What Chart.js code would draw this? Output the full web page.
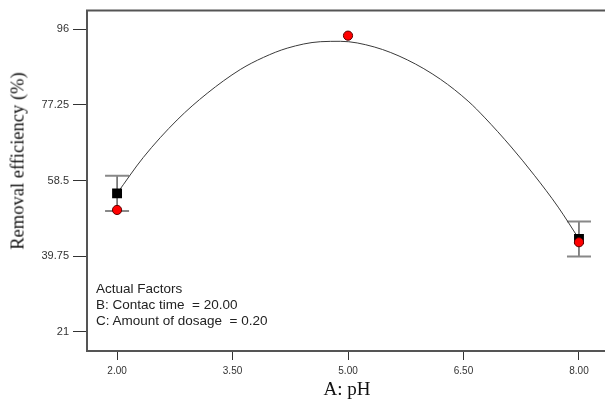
<!DOCTYPE html>
<html lang="en">
<head>
    <meta charset="UTF-8">
    <title>Removal efficiency vs pH</title>
    <script src="https://cdn.jsdelivr.net/npm/chart.js"></script>
    <style>
        html, body { margin: 0; background: #fff; overflow: hidden; width: 605px; height: 404px; }
        #wrap { position: relative; width: 613px; height: 404px; }
        .ytitle {
            position: absolute; left: 18px; top: 161px;
            transform: translate(-50%, -50%) rotate(-90deg);
            font-family: "Liberation Serif", "Times New Roman", serif; font-size: 18.5px;
            color: #111; white-space: nowrap;
        }
        .xtitle {
            position: absolute; left: 347px; top: 389px;
            transform: translate(-50%, -50%);
            font-family: "Liberation Serif", "Times New Roman", serif; font-size: 19px;
            color: #111; white-space: nowrap;
        }
        .note {
            position: absolute; left: 96px; top: 281px;
            font-family: "Liberation Sans", Arial, sans-serif; font-size: 13.5px;
            line-height: 16px; color: #222; white-space: pre;
        }
    </style>
</head>
<body>
<div id="wrap">
    <canvas id="chart"></canvas>
    <div class="ytitle">Removal efficiency (%)</div>
    <div class="xtitle">A: pH</div>
    <div class="note">Actual Factors
B: Contac time  = 20.00
C: Amount of dosage  = 0.20</div>
</div>

<script>
    // tick labels
    const xTicks = [2.00, 3.50, 5.00, 6.50, 8.00];
    const yTicks = [21, 39.75, 58.5, 77.25, 96];
    const yTickLabels = ['21', '39.75', '58.5', '77.25', '96'];

    // model curve
    const curveX = [2.00, 2.34, 2.78, 3.17, 3.60, 3.90, 4.21, 4.64, 4.90, 5.34, 5.77, 6.20, 6.57, 6.77, 7.12, 7.42, 7.73, 8.00];
    const curveY = [55.3, 64.2, 73.5, 80.1, 86.0, 89.0, 91.3, 92.9, 93.0, 91.6, 88.4, 83.6, 78.0, 74.2, 66.8, 59.8, 51.9, 44.0];

    // actual design points (red)
    const actualX = [2, 5, 8];
    const actualY = [51.2, 94.4, 43.2];

    // predicted points with LSD bars (black)
    const predX = [2, 8];
    const predY = [55.3, 44.0];
    const predHalf = [4.35, 4.35];

    const toPts = (xs, ys) => xs.map((x, i) => ({ x: x, y: ys[i] }));

    // frame: top, left, bottom lines (open on the right)
    const framePlugin = {
        id: 'frame',
        afterDraw(chart) {
            const { ctx, chartArea: a } = chart;
            ctx.save();
            ctx.strokeStyle = '#555';
            ctx.lineWidth = 2;
            ctx.beginPath();
            ctx.moveTo(a.right + 20, a.top);
            ctx.lineTo(a.left, a.top);
            ctx.lineTo(a.left, a.bottom);
            ctx.lineTo(a.right + 20, a.bottom);
            ctx.stroke();
            ctx.restore();
        }
    };

    // error bars drawn through the scales
    const errorBarPlugin = {
        id: 'errorBars',
        beforeDatasetsDraw(chart) {
            const { ctx, scales } = chart;
            ctx.save();
            predX.forEach((x, i) => {
                const px = scales.x.getPixelForValue(x);
                const hi = scales.y.getPixelForValue(predY[i] + predHalf[i]);
                const lo = scales.y.getPixelForValue(predY[i] - predHalf[i]);
                ctx.strokeStyle = '#111';
                ctx.lineWidth = 1;
                ctx.beginPath();
                ctx.moveTo(px, hi);
                ctx.lineTo(px, lo);
                ctx.stroke();
                ctx.strokeStyle = '#888';
                ctx.lineWidth = 2;
                ctx.beginPath();
                ctx.moveTo(px - 12, hi);
                ctx.lineTo(px + 12, hi);
                ctx.moveTo(px - 12, lo);
                ctx.lineTo(px + 12, lo);
                ctx.stroke();
            });
            ctx.restore();
        }
    };

    const xFont = { family: '"Liberation Sans", Arial, sans-serif', size: 10 };
    const yFont = { family: '"Liberation Sans", Arial, sans-serif', size: 11 };

    new Chart(document.getElementById('chart').getContext('2d'), {
        type: 'scatter',
        data: {
            datasets: [{
                label: 'Actual',
                data: toPts(actualX, actualY),
                pointStyle: 'circle',
                pointRadius: 4.6,
                backgroundColor: '#ff0000',
                borderColor: '#5a0000',
                borderWidth: 1
            }, {
                label: 'Predicted',
                data: toPts(predX, predY),
                pointStyle: 'rect',
                pointRadius: 7,
                backgroundColor: '#000',
                borderColor: '#000',
                borderWidth: 0
            }, {
                type: 'line',
                label: 'Model',
                data: toPts(curveX, curveY),
                borderColor: '#3a3a3a',
                borderWidth: 1,
                pointRadius: 0,
                cubicInterpolationMode: 'monotone',
                fill: false
            }]
        },
        options: {
            responsive: true,
            maintainAspectRatio: false,
            animation: false,
            layout: { padding: { top: 9, right: 0, left: 0, bottom: 0 } },
            plugins: { legend: { display: false }, tooltip: { enabled: false } },
            scales: {
                x: {
                    type: 'linear',
                    min: 1.6095,
                    max: 8.351,
                    afterBuildTicks: s => { s.ticks = xTicks.map(v => ({ value: v })); },
                    afterFit: s => { s.height = 53; },
                    grid: { drawOnChartArea: false, drawTicks: true, tickLength: 9, color: '#333' },
                    border: { display: false },
                    ticks: { font: xFont, color: '#333', padding: 5, maxRotation: 0,
                             callback: v => v.toFixed(2) }
                },
                y: {
                    type: 'linear',
                    min: 16.24,
                    max: 100.61,
                    afterBuildTicks: s => { s.ticks = yTicks.map(v => ({ value: v })); },
                    afterFit: s => { s.width = 87; },
                    grid: { drawOnChartArea: false, drawTicks: true, tickLength: 14, color: '#333' },
                    border: { display: false },
                    ticks: { font: yFont, color: '#333', padding: 4,
                             callback: v => yTickLabels[yTicks.indexOf(v)] }
                }
            }
        },
        plugins: [framePlugin, errorBarPlugin]
    });
</script>
</body>
</html>
